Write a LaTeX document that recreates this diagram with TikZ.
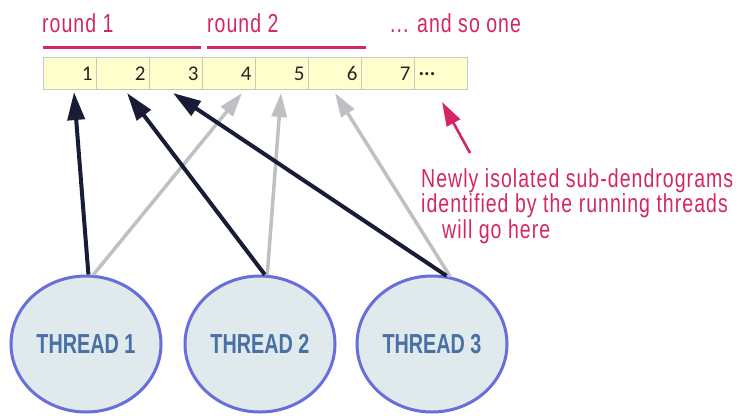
\documentclass[tikz,border=0pt]{standalone}
\usepackage{fontspec}
\usetikzlibrary{arrows.meta,shapes.geometric}
\newfontfamily\pinkfont[FakeStretch=0.75,LetterSpace=4]{Liberation Sans}
\newfontfamily\thfont[FakeStretch=0.72]{Liberation Sans}
\setmainfont{Carlito}
\definecolor{pinkc}{RGB}{212,38,102}
\definecolor{navy}{RGB}{24,28,52}
\definecolor{grayarr}{RGB}{190,192,196}
\definecolor{cellfill}{RGB}{255,255,206}
\definecolor{cellline}{RGB}{200,200,200}
\definecolor{thline}{RGB}{104,110,218}
\definecolor{thfill}{RGB}{224,233,236}
\definecolor{thtext}{RGB}{72,112,166}
\tikzset{
  cell/.style={draw=cellline, line width=1.2pt, fill=cellfill, minimum height=32pt,
    text width=45pt, inner xsep=4pt, inner ysep=0pt, anchor=north west,
    font=\fontsize{21}{21}\selectfont, text=black!85},
  thread/.style={ellipse, draw=thline, line width=3pt, fill=thfill,
    minimum width=150pt, minimum height=136pt, inner sep=0pt,
    font=\thfont\bfseries\fontsize{27.5}{27.5}\selectfont, text=thtext},
  pinktext/.style={inner sep=0pt, text=pinkc, font=\pinkfont\fontsize{26}{25.5}\selectfont},
  darkarrow/.style={draw=navy, line width=4pt, -{Triangle[length=28pt,width=17pt]}},
  grayarrow/.style={draw=grayarr, line width=3.5pt, -{Triangle[length=24pt,width=15pt]}},
  pinkarrow/.style={draw=pinkc, line width=2.6pt, -{Triangle[length=24pt,width=15pt]}},
  roundline/.style={draw=pinkc, line width=3pt}
}
\begin{document}
\begin{tikzpicture}[x=1pt,y=-1pt]
\useasboundingbox (0,0) rectangle (751,415);
% labels
\node[pinktext, anchor=base west] (r1) at (42,32) {round 1};
\node[pinktext, anchor=base west] (r2) at (207,32) {round 2};
\node[pinktext, anchor=base west] (r3) at (390,32) {... and so one};
\coordinate (u1a) at (43,47); \coordinate (u1b) at (201,47);
\coordinate (u2a) at (207,47); \coordinate (u2b) at (366,47);
\draw[roundline] (u1a) -- (u1b);
\draw[roundline] (u2a) -- (u2b);
% cells
\foreach \i/\t in {1/1,2/2,3/3,4/4,5/5,6/6,7/7}{
  \node[cell, align=right] (c\i) at ({43+53*(\i-1)},57) {\t};
}
\node[cell, align=left] (c8) at ({43+53*7},57) {\textbf{...}};
% threads
\node[thread] (t1) at (86,344) {\raisebox{-4pt}{THREAD 1}};
\node[thread] (t2) at (260,344) {\raisebox{-4pt}{THREAD 2}};
\node[thread] (t3) at (432,344) {\raisebox{-4pt}{THREAD 3}};
% arrow targets
\coordinate (a1) at (74,92);
\coordinate (a2) at (127,93);
\coordinate (a3) at (173,93);
\coordinate (a4) at (242,93);
\coordinate (a5) at (281,93);
\coordinate (a6) at (335,93);
% gray arrows
\draw[grayarrow] (t1.84) -- (a4);
\draw[grayarrow] (t2.84) -- (a5);
\draw[grayarrow] (t3.75) -- (a6);
% dark arrows
\draw[darkarrow] (t1.88) -- (a1);
\draw[darkarrow] (t2.86) -- (a2);
\draw[darkarrow] (t3.78) -- (a3);
% pink note
\coordinate (pa) at (470,153);
\coordinate (pb) at (442,102);
\draw[pinkarrow] (pa) -- (pb);
\node[pinktext, anchor=north west, align=left] (note) at (421,168)
  {Newly isolated sub-dendrograms\\identified by the running threads\\\hspace*{21pt}will go here};
\end{tikzpicture}
\end{document}
